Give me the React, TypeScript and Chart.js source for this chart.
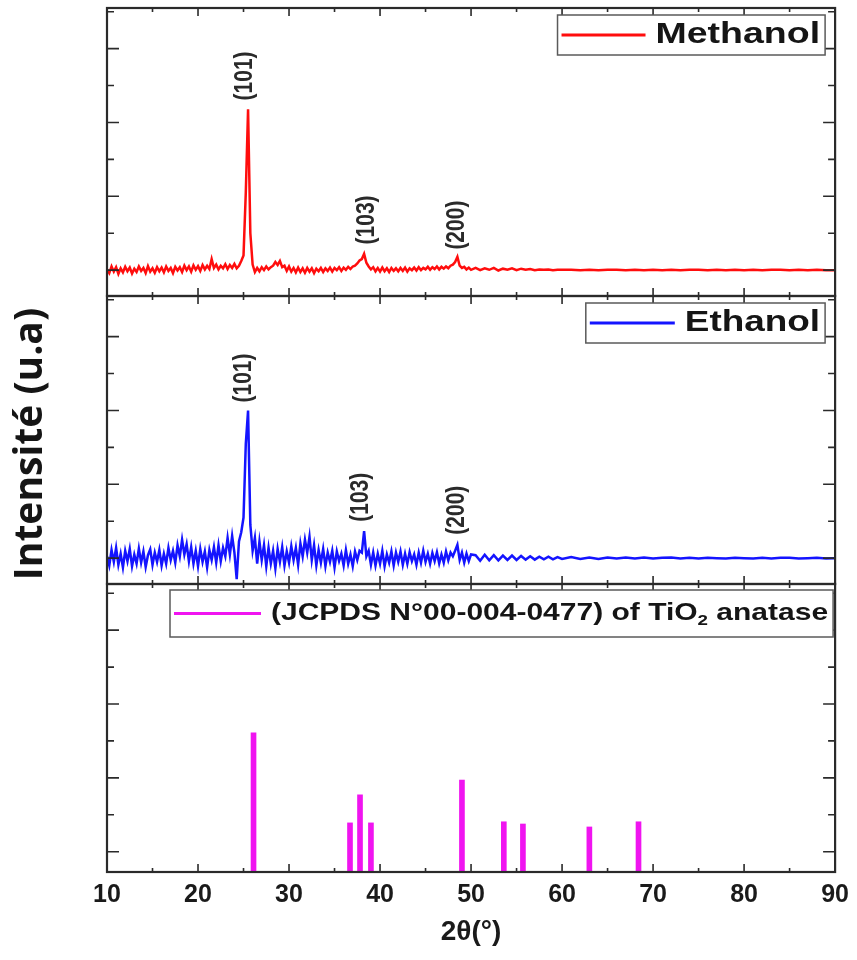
import { useEffect, useRef } from 'react';
import { Chart, registerables } from 'chart.js';

Chart.register(...registerables);

const FONT = "'Liberation Sans', Arial, Helvetica, sans-serif";

// 2θ sampling positions (degrees)
const scanAngles = [
  10, 10.25, 10.5, 10.75, 11, 11.25, 11.5, 11.75,
  12, 12.25, 12.5, 12.75, 13, 13.25, 13.5, 13.75,
  14, 14.25, 14.5, 14.75, 15, 15.25, 15.5, 15.75,
  16, 16.25, 16.5, 16.75, 17, 17.25, 17.5, 17.75,
  18, 18.25, 18.5, 18.75, 19, 19.25, 19.5, 19.75,
  20, 20.25, 20.5, 20.75, 21, 21.25, 21.5, 21.75,
  22, 22.25, 22.5, 22.75, 23, 23.25, 23.5, 23.75,
  24, 24.25, 24.5, 24.75, 25, 25.25, 25.5, 25.75,
  26, 26.25, 26.5, 26.75, 27, 27.25, 27.5, 27.75,
  28, 28.25, 28.5, 28.75, 29, 29.25, 29.5, 29.75,
  30, 30.25, 30.5, 30.75, 31, 31.25, 31.5, 31.75,
  32, 32.25, 32.5, 32.75, 33, 33.25, 33.5, 33.75,
  34, 34.25, 34.5, 34.75, 35, 35.25, 35.5, 35.75,
  36, 36.25, 36.5, 36.75, 37, 37.25, 37.5, 37.75,
  38, 38.25, 38.5, 38.75, 39, 39.25, 39.5, 39.75,
  40, 40.25, 40.5, 40.75, 41, 41.25, 41.5, 41.75,
  42, 42.25, 42.5, 42.75, 43, 43.25, 43.5, 43.75,
  44, 44.25, 44.5, 44.75, 45, 45.25, 45.5, 45.75,
  46, 46.25, 46.5, 46.75, 47, 47.25, 47.5, 47.75,
  48, 48.25, 48.5, 48.75, 49, 49.25, 49.5, 49.75,
  50,
  50.5, 51, 51.5, 52, 52.5, 53, 53.5, 54, 54.5, 55,
  55.5, 56, 56.5, 57, 57.5, 58, 58.5, 59, 59.5, 60,
  61, 62, 63, 64, 65, 66, 67, 68, 69, 70,
  71, 72, 73, 74, 75, 76, 77, 78, 79, 80,
  81, 82, 83, 84, 85, 86, 87, 88, 89, 90,
];

// Methanol sample intensity (a.u., panel baseline = 0)
const methanolIntensity = [
  0.02, -0.08, 0.10, -0.04, 0.08, -0.10, 0.05, -0.06,
  0.09, -0.03, 0.07, -0.09, 0.04, -0.05, 0.10, -0.02,
  0.06, -0.08, 0.11, -0.04, 0.05, -0.07, 0.08, -0.03,
  0.07, -0.06, 0.10, -0.02, 0.06, -0.08, 0.09, -0.01,
  0.08, -0.05, 0.12, 0.00, 0.10, -0.04, 0.13, 0.01,
  0.11, -0.02, 0.14, 0.02, 0.12, 0.03, 0.30, 0.06,
  0.15, 0.02, 0.12, 0.05, 0.16, 0.03, 0.14, 0.06,
  0.17, 0.05, 0.12, 0.25, 0.40, 2.10, 4.36, 1.00,
  0.15, -0.05, 0.06, -0.03, 0.08, 0.00, 0.10, 0.02,
  0.08, 0.12, 0.22, 0.14, 0.25, 0.08, 0.12, -0.02,
  0.10, -0.04, 0.06, -0.06, 0.07, -0.05, 0.05, -0.07,
  0.06, -0.04, 0.05, -0.08, 0.04, -0.03, 0.06, -0.05,
  0.05, -0.02, 0.07, -0.04, 0.06, 0.00, 0.08, -0.02,
  0.07, 0.01, 0.09, 0.03, 0.10, 0.12, 0.18, 0.26,
  0.30, 0.44, 0.20, 0.10, 0.02, 0.08, -0.03, 0.06,
  -0.04, 0.07, -0.03, 0.05, -0.05, 0.06, -0.02, 0.05,
  -0.03, 0.06, -0.02, 0.07, -0.04, 0.05, 0.00, 0.07,
  -0.01, 0.08, 0.00, 0.06, 0.02, 0.09, 0.01, 0.08,
  0.03, 0.10, 0.02, 0.09, 0.04, 0.10, 0.05, 0.12,
  0.15, 0.22, 0.36, 0.12, 0.06, 0.09, 0.02, 0.07,
  0.01,
  0.06, 0.00, 0.05, 0.01, 0.06, -0.01, 0.04, 0.01, 0.05, 0.00,
  0.04, 0.01, 0.03, 0.00, 0.02, 0.01, 0.02, 0.00, 0.01, 0.01,
  0.01, 0.00, 0.01, 0.00, 0.01, 0.01, 0.00, 0.01, 0.00, 0.01,
  0.00, 0.01, 0.00, 0.01, 0.01, 0.00, 0.01, 0.00, 0.01, 0.00,
  0.01, 0.00, 0.01, 0.01, 0.00, 0.01, 0.00, 0.01, 0.00, 0.00,
];

// Ethanol sample intensity (a.u., panel baseline = 0)
const ethanolIntensity = [
  0.05, -0.20, 0.22, -0.10, 0.28, -0.18, 0.12, -0.25,
  0.20, -0.08, 0.25, -0.22, 0.10, -0.15, 0.26, -0.12,
  0.18, -0.24, 0.08, 0.24, -0.18, 0.15, -0.10, 0.22,
  -0.20, 0.12, -0.15, 0.28, -0.05, 0.20, -0.12, 0.35,
  0.05, 0.50, 0.10, 0.38, -0.08, 0.30, -0.15, 0.20,
  -0.22, 0.25, -0.10, 0.18, -0.25, 0.22, -0.05, 0.30,
  -0.12, 0.35, -0.08, 0.28, 0.05, 0.55, 0.10, 0.60,
  0.15, -0.57, 0.45, 0.70, 1.10, 3.10, 4.00, 0.90,
  0.20, 0.55, -0.15, 0.45, -0.05, 0.35, -0.22, 0.28,
  -0.15, 0.20, -0.28, 0.25, -0.10, 0.30, -0.20, 0.18,
  -0.12, 0.32, -0.05, 0.28, -0.18, 0.40, 0.05, 0.50,
  0.15, 0.58, -0.05, 0.35, -0.20, 0.22, -0.12, 0.25,
  -0.22, 0.15, -0.10, 0.20, -0.25, 0.18, -0.08, 0.12,
  -0.20, 0.22, -0.15, 0.10, -0.22, 0.18, -0.05, 0.20,
  0.15, 0.73, 0.05, 0.20, -0.18, 0.15, -0.20, 0.12,
  -0.15, 0.20, -0.22, 0.10, -0.12, 0.18, -0.20, 0.15,
  -0.10, 0.18, -0.18, 0.12, -0.15, 0.16, -0.08, 0.10,
  -0.18, 0.15, -0.12, 0.20, -0.10, 0.12, -0.15, 0.14,
  -0.08, 0.16, -0.14, 0.10, -0.12, 0.18, -0.06, 0.15,
  0.05, 0.20, 0.36, -0.05, 0.15, -0.12, 0.12, -0.08,
  0.10,
  0.08, -0.07, 0.09, -0.06, 0.08, -0.06, 0.07, -0.05, 0.07, -0.05,
  0.06, -0.04, 0.05, -0.04, 0.04, -0.03, 0.04, -0.03, 0.03, -0.02,
  0.03, -0.02, 0.02, -0.02, 0.02, -0.01, 0.02, -0.01, 0.02, -0.01,
  0.01, 0.02, -0.01, 0.01, -0.01, 0.01, 0.00, -0.01, 0.01, 0.00,
  -0.01, 0.01, -0.01, 0.01, 0.01, -0.01, 0.00, 0.01, -0.01, 0.00,
];

// JCPDS 00-004-0477 reference lines
const jcpdsAngles = [26.1, 36.7, 37.8, 39.0, 49.0, 53.6, 55.7, 63.0, 68.4];
const jcpdsIntensity = [3.77, 1.33, 2.09, 1.33, 2.49, 1.36, 1.30, 1.22, 1.36];

// Axis ticks
const xTickLabels = [10, 20, 30, 40, 50, 60, 70, 80, 90];
const xMinorTicks = [15, 25, 35, 45, 55, 65, 75, 85];
const sampleTicks = [0, 1, 2, 3, 4, 5, 6, 7];
const referenceTicks = [0.55, 1.55, 2.55, 3.55, 4.55, 5.55, 6.55, 7.55];

// Peak (hkl) annotations
const peakLabels = ['(101)', '(103)', '(200)'];
const methanolLabelAngles = [25.2, 38.6, 48.5];
const methanolLabelLevels = [5.26, 1.36, 1.22];
const ethanolLabelAngles = [25.1, 37.9, 48.5];
const ethanolLabelLevels = [4.88, 1.65, 1.30];

const seriesNames = ['Methanol', 'Ethanol', '(JCPDS N°00-004-0477) of TiO₂ anatase'];
const seriesColors = ['#ff0d0d', '#1414ff', '#f014f0'];
const yTitle = 'Intensité (u.a)';
const xTitle = '2θ(°)';

function drawLegendBox(
  ctx: CanvasRenderingContext2D,
  label: string,
  color: string,
  boxRight: number,
  boxTop: number,
  boxHeight: number,
  fontPx: number,
  stretch: number,
  lineLen: number,
) {
  ctx.save();
  const mainFont = `bold ${fontPx}px ${FONT}`;
  const subFont = `bold ${Math.round(fontPx * 0.62)}px ${FONT}`;
  const parts = label.split('₂');
  ctx.font = mainFont;
  const w0 = ctx.measureText(parts[0]).width;
  let subW = 0;
  let w1 = 0;
  if (parts.length > 1) {
    ctx.font = subFont;
    subW = ctx.measureText('2').width;
    ctx.font = mainFont;
    w1 = ctx.measureText(parts[1]).width;
  }
  const textW = (w0 + subW + w1) * stretch;
  const padL = 4;
  const gap = 10;
  const padR = 5;
  const boxW = padL + lineLen + gap + textW + padR;
  const left = boxRight - boxW;
  ctx.fillStyle = '#ffffff';
  ctx.fillRect(left, boxTop, boxW, boxHeight);
  ctx.strokeStyle = '#5a5a5a';
  ctx.lineWidth = 1.5;
  ctx.strokeRect(left, boxTop, boxW, boxHeight);
  const cy = boxTop + boxHeight / 2;
  ctx.strokeStyle = color;
  ctx.lineWidth = 3;
  ctx.beginPath();
  ctx.moveTo(left + padL, cy);
  ctx.lineTo(left + padL + lineLen, cy);
  ctx.stroke();
  ctx.fillStyle = '#151515';
  ctx.textBaseline = 'middle';
  ctx.textAlign = 'left';
  ctx.translate(left + padL + lineLen + gap, cy);
  ctx.scale(stretch, 1);
  ctx.font = mainFont;
  ctx.fillText(parts[0], 0, 0);
  if (parts.length > 1) {
    ctx.font = subFont;
    ctx.fillText('2', w0, fontPx * 0.3);
    ctx.font = mainFont;
    ctx.fillText(parts[1], w0 + subW, 0);
  }
  ctx.restore();
}

const xrdDecor = {
  id: 'xrdDecor',
  afterDatasetsDraw(chart: any) {
    const { ctx, chartArea } = chart;
    const xs = chart.scales.x;
    const left = chartArea.left;
    const right = chartArea.right;
    const panels = [
      { scale: chart.scales.y1, ticks: sampleTicks },
      { scale: chart.scales.y2, ticks: sampleTicks },
      { scale: chart.scales.y3, ticks: referenceTicks },
    ];
    ctx.save();
    ctx.strokeStyle = '#2a2a2a';
    ctx.lineWidth = 1.6;
    for (const p of panels) {
      const top = p.scale.top;
      const bottom = p.scale.bottom;
      ctx.beginPath();
      for (const v of xTickLabels) {
        const px = xs.getPixelForValue(v);
        ctx.moveTo(px, bottom);
        ctx.lineTo(px, bottom - 8);
        ctx.moveTo(px, top);
        ctx.lineTo(px, top + 8);
      }
      for (const v of xMinorTicks) {
        const px = xs.getPixelForValue(v);
        ctx.moveTo(px, bottom);
        ctx.lineTo(px, bottom - 4);
        ctx.moveTo(px, top);
        ctx.lineTo(px, top + 4);
      }
      p.ticks.forEach((v: number, i: number) => {
        const py = p.scale.getPixelForValue(v);
        const len = i % 2 === 0 ? 12 : 7;
        ctx.moveTo(left, py);
        ctx.lineTo(left + len, py);
        ctx.moveTo(right, py);
        ctx.lineTo(right - len, py);
      });
      ctx.stroke();
    }
    ctx.lineWidth = 2.2;
    for (const p of panels) {
      ctx.strokeRect(left, p.scale.top, right - left, p.scale.bottom - p.scale.top);
    }

    // peak annotations
    ctx.fillStyle = '#2a2a2a';
    ctx.font = `bold 21px ${FONT}`;
    ctx.textAlign = 'center';
    ctx.textBaseline = 'middle';
    const drawVertical = (text: string, px: number, py: number) => {
      ctx.save();
      ctx.translate(px, py);
      ctx.rotate(-Math.PI / 2);
      ctx.scale(1, 1.2);
      ctx.fillText(text, 0, 0);
      ctx.restore();
    };
    peakLabels.forEach((t, i) => {
      drawVertical(t, xs.getPixelForValue(methanolLabelAngles[i]), chart.scales.y1.getPixelForValue(methanolLabelLevels[i]));
      drawVertical(t, xs.getPixelForValue(ethanolLabelAngles[i]), chart.scales.y2.getPixelForValue(ethanolLabelLevels[i]));
    });

    // legends
    drawLegendBox(ctx, chart.data.datasets[0].label, seriesColors[0], right - 10, chart.scales.y1.top + 7, 40, 30, 1.25, 84);
    drawLegendBox(ctx, chart.data.datasets[1].label, seriesColors[1], right - 10, chart.scales.y2.top + 7, 40, 30, 1.23, 85);
    drawLegendBox(ctx, chart.data.datasets[2].label, seriesColors[2], right - 2, chart.scales.y3.top + 6, 47, 24, 1.25, 87);

    // shared y-axis title
    ctx.save();
    ctx.translate(31, 444);
    ctx.rotate(-Math.PI / 2);
    ctx.font = `bold 39px 'Open Sans', ${FONT}`;
    ctx.fillStyle = '#151515';
    ctx.textAlign = 'center';
    ctx.textBaseline = 'middle';
    ctx.fillText(yTitle, 0, 0);
    ctx.restore();
    ctx.restore();
  },
};

const hiddenY = (weight: number, min: number, max: number) => ({
  type: 'linear' as const,
  position: 'left' as const,
  stack: 'xrd',
  stackWeight: 1,
  weight,
  min,
  max,
  display: true,
  grid: { display: false, drawTicks: false },
  border: { display: false },
  ticks: { display: false },
  afterFit: (s: any) => {
    s.width = 0;
  },
});

export default function App() {
  const canvasRef = useRef<HTMLCanvasElement | null>(null);

  useEffect(() => {
    const canvas = canvasRef.current;
    if (!canvas) return;
    const chart = new Chart(canvas, {
      type: 'line',
      data: {
        datasets: [
          {
            type: 'line',
            label: seriesNames[0],
            data: scanAngles.map((a, i) => ({ x: a, y: methanolIntensity[i] })),
            yAxisID: 'y1',
            borderColor: seriesColors[0],
            borderWidth: 2.5,
            pointRadius: 0,
            tension: 0,
          },
          {
            type: 'line',
            label: seriesNames[1],
            data: scanAngles.map((a, i) => ({ x: a, y: ethanolIntensity[i] })),
            yAxisID: 'y2',
            borderColor: seriesColors[1],
            borderWidth: 2.5,
            pointRadius: 0,
            tension: 0,
          },
          {
            type: 'bar',
            label: seriesNames[2],
            data: jcpdsAngles.map((a, i) => ({ x: a, y: jcpdsIntensity[i] })),
            yAxisID: 'y3',
            backgroundColor: seriesColors[2],
            borderWidth: 0,
            barThickness: 5,
          },
        ] as any,
      },
      options: {
        responsive: false,
        animation: false,
        devicePixelRatio: 1,
        layout: { padding: { left: 107, right: 20, top: 8, bottom: 0 } },
        plugins: {
          legend: { display: false },
          tooltip: { enabled: false },
        },
        scales: {
          x: {
            type: 'linear',
            position: 'bottom',
            min: 10,
            max: 90,
            offset: false,
            grid: { display: false, drawTicks: false, offset: false },
            border: { display: false },
            ticks: {
              stepSize: 10,
              padding: 8,
              autoSkip: false,
              maxRotation: 0,
              color: '#1a1a1a',
              font: { family: FONT, size: 25, weight: 'bold' },
            },
            title: {
              display: true,
              text: xTitle,
              color: '#1a1a1a',
              font: { family: FONT, size: 28, weight: 'bold' },
              padding: { top: 0, bottom: 11 },
            },
            afterFit: (s: any) => {
              s.height = 88;
            },
          },
          y1: hiddenY(3, -0.7, 7.1),
          y2: hiddenY(2, -0.7, 7.1),
          y3: hiddenY(1, 0, 7.8),
        } as any,
      },
      plugins: [xrdDecor],
    });
    return () => chart.destroy();
  }, []);

  return (
    <div style={{ position: 'absolute', left: 0, top: 0, width: 857, height: 960, background: '#fff' }}>
      <canvas ref={canvasRef} width={857} height={960} style={{ display: 'block', width: 857, height: 960 }} />
    </div>
  );
}
